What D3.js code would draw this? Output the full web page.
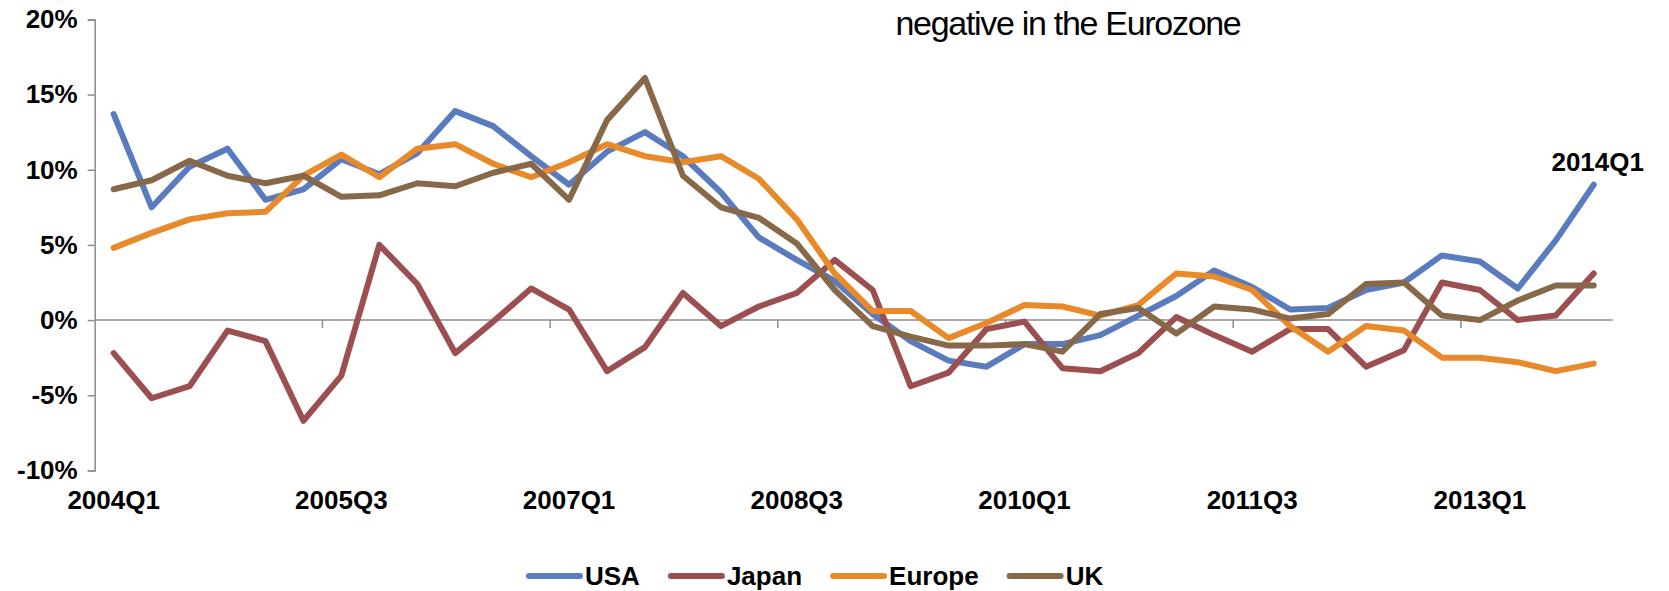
<!DOCTYPE html>
<html>
<head>
<meta charset="utf-8">
<script src="https://cdn.jsdelivr.net/npm/d3@7/dist/d3.min.js"></script>
<style>
  body { margin: 0; background: #fff; overflow: hidden; }
  text { font-family: "Liberation Sans", Arial, sans-serif; }
</style>
</head>
<body>
<script>
'use strict';

// quarters shown on the category axis
const quarters = [
  "2004Q1","2004Q2","2004Q3","2004Q4","2005Q1","2005Q2","2005Q3","2005Q4",
  "2006Q1","2006Q2","2006Q3","2006Q4","2007Q1","2007Q2","2007Q3","2007Q4",
  "2008Q1","2008Q2","2008Q3","2008Q4","2009Q1","2009Q2","2009Q3","2009Q4",
  "2010Q1","2010Q2","2010Q3","2010Q4","2011Q1","2011Q2","2011Q3","2011Q4",
  "2012Q1","2012Q2","2012Q3","2012Q4","2013Q1","2013Q2","2013Q3","2013Q4"
];
const xTickLabels = ["2004Q1","2005Q3","2007Q1","2008Q3","2010Q1","2011Q3","2013Q1"];
const yTicks = [-10, -5, 0, 5, 10, 15, 20];

// credit growth, % y/y
const usa = [13.7, 7.5, 10.2, 11.4, 8.0, 8.7, 10.7, 9.7, 11.1, 13.9,
  12.9, 10.9, 9.0, 11.2, 12.5, 10.9, 8.5, 5.5, 4.0, 2.6,
  0.4, -1.4, -2.7, -3.1, -1.6, -1.6, -1.0, 0.3, 1.6, 3.3,
  2.2, 0.7, 0.8, 2.0, 2.5, 4.3, 3.9, 2.1, 5.3, 9.0];
const japan = [-2.2, -5.2, -4.4, -0.7, -1.4, -6.7, -3.7, 5.0, 2.4, -2.2,
  -0.1, 2.1, 0.7, -3.4, -1.8, 1.8, -0.4, 0.9, 1.8, 4.0,
  2.0, -4.4, -3.5, -0.6, -0.1, -3.2, -3.4, -2.2, 0.2, -1.0,
  -2.1, -0.6, -0.6, -3.1, -2.0, 2.5, 2.0, 0.0, 0.3, 3.1];
const europe = [4.8, 5.8, 6.7, 7.1, 7.2, 9.6, 11.0, 9.5, 11.4, 11.7,
  10.4, 9.5, 10.5, 11.7, 10.9, 10.5, 10.9, 9.4, 6.7, 3.1,
  0.6, 0.6, -1.2, -0.2, 1.0, 0.9, 0.3, 1.0, 3.1, 2.9,
  2.0, -0.4, -2.1, -0.4, -0.7, -2.5, -2.5, -2.8, -3.4, -2.9];
const uk = [8.7, 9.3, 10.6, 9.6, 9.1, 9.6, 8.2, 8.3, 9.1, 8.9,
  9.8, 10.4, 8.0, 13.3, 16.1, 9.6, 7.5, 6.8, 5.1, 2.0,
  -0.4, -1.1, -1.7, -1.7, -1.6, -2.1, 0.4, 0.8, -0.9, 0.9,
  0.7, 0.1, 0.4, 2.4, 2.5, 0.3, 0.0, 1.3, 2.3, 2.3];

const seriesNames = ["USA", "Japan", "Europe", "UK"];
const seriesColors = ["#5b7bbf", "#9c4f51", "#e8892a", "#87694a"];
const titleText = "negative in the Eurozone";
const lastLabel = "2014Q1";

const width = 1669, height = 591;
const svg = d3.select('body').append('svg')
  .attr('width', width)
  .attr('height', height);

// category scale: one band per quarter, points sit in the band centre
const x = d3.scaleBand()
  .domain(quarters)
  .range([94.7, 1612.7]);
const xMid = (q) => x(q) + x.bandwidth() / 2;

const y = d3.scaleLinear()
  .domain([-10, 20])
  .range([470.4, 19.4]);

const axisColor = "#8c8c8c";

// y axis on the left
const yAxis = svg.append('g')
  .attr('transform', `translate(${x.range()[0]},0)`)
  .call(d3.axisLeft(y).tickValues(yTicks).tickSize(7).tickPadding(10)
    .tickFormat((d) => d + "%"));
yAxis.select('.domain').attr('stroke', axisColor).attr('stroke-width', 1.5);
yAxis.selectAll('.tick line').attr('stroke', axisColor).attr('stroke-width', 1.5);
yAxis.selectAll('.tick text')
  .attr('fill', '#000')
  .style('font-size', '26px')
  .style('font-weight', 'bold');

// horizontal axis line at 0%
svg.append('line')
  .attr('x1', x.range()[0]).attr('x2', x.range()[1])
  .attr('y1', y(0)).attr('y2', y(0))
  .attr('stroke', axisColor).attr('stroke-width', 1.5);

// tick marks between categories, every 6 quarters
svg.selectAll('.xtick')
  .data(xTickLabels.slice(1))
  .enter().append('line')
  .attr('class', 'xtick')
  .attr('x1', (d) => x(d)).attr('x2', (d) => x(d))
  .attr('y1', y(0)).attr('y2', y(0) + 8)
  .attr('stroke', axisColor).attr('stroke-width', 1.5);

// category labels sit below the plot
const xAxis = svg.append('g')
  .attr('transform', `translate(0,${y(-10)})`)
  .call(d3.axisBottom(x).tickValues(xTickLabels).tickSize(0).tickPadding(20));
xAxis.select('.domain').remove();
xAxis.selectAll('.tick text')
  .attr('fill', '#000')
  .style('font-size', '26px')
  .style('font-weight', 'bold');

// the lines
const allSeries = [usa, japan, europe, uk];
const line = d3.line()
  .x((d, i) => xMid(quarters[i]))
  .y((d) => y(d));

svg.selectAll('.series')
  .data(allSeries)
  .enter().append('path')
  .attr('class', 'series')
  .attr('d', (d) => line(d))
  .attr('fill', 'none')
  .attr('stroke', (d, i) => seriesColors[i])
  .attr('stroke-width', 6)
  .attr('stroke-linejoin', 'round')
  .attr('stroke-linecap', 'round');

// label for the last point
svg.append('text')
  .attr('x', xMid(quarters[quarters.length - 1]) + 4)
  .attr('y', 171)
  .attr('text-anchor', 'middle')
  .style('font-size', '26px')
  .style('font-weight', 'bold')
  .text(lastLabel);

// title (second line only is in view)
svg.append('text')
  .attr('x', 1068)
  .attr('y', 35)
  .attr('text-anchor', 'middle')
  .style('font-size', '34px')
  .style('letter-spacing', '-1.3px')
  .text(titleText);

// legend along the bottom
let lx = 529;
const ly = 576;
seriesNames.forEach((name, i) => {
  svg.append('line')
    .attr('x1', lx).attr('x2', lx + 51)
    .attr('y1', ly).attr('y2', ly)
    .attr('stroke', seriesColors[i])
    .attr('stroke-width', 6)
    .attr('stroke-linecap', 'round');
  const t = svg.append('text')
    .attr('x', lx + 56)
    .attr('y', ly + 9)
    .style('font-size', '26px')
    .style('font-weight', 'bold')
    .text(name);
  lx += 56 + t.node().getComputedTextLength() + 31;
});
</script>
</body>
</html>
